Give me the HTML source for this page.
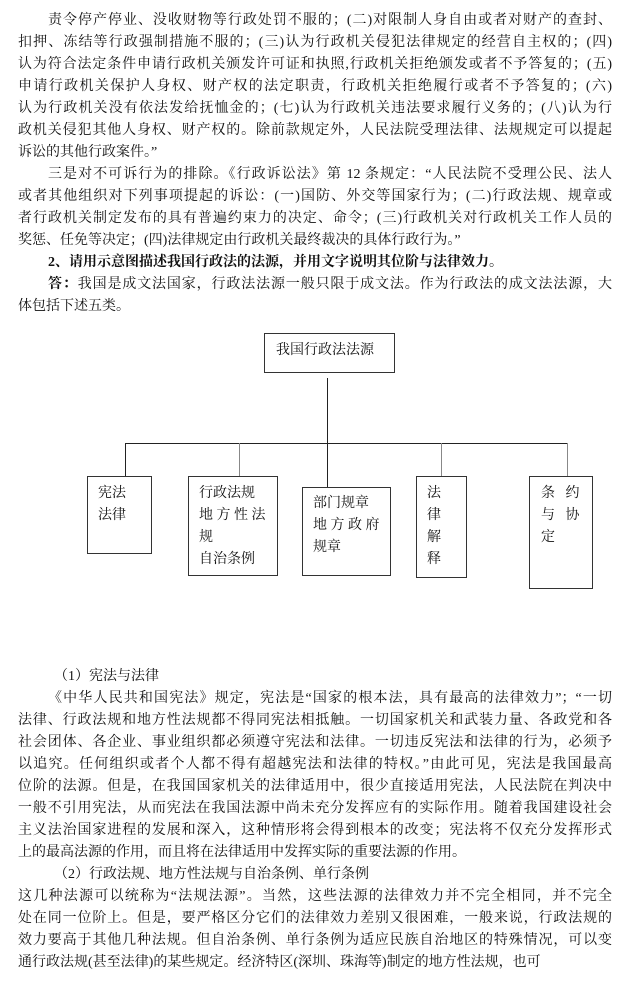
<!DOCTYPE html>
<html><head><meta charset="utf-8"><style>
body{margin:0;width:631px;height:999px;background:#fff;position:relative;overflow:hidden;font-family:"Liberation Serif","Noto Serif CJK SC","Noto Sans CJK SC",serif;color:#111;font-size:14px}
.l{position:absolute;left:18px;width:594px;height:22px;line-height:22px;white-space:nowrap;text-align:justify;text-align-last:justify}
.n{text-align-last:left}
.i{left:48px;width:564px}
.b{position:absolute;border:1px solid #333;box-sizing:border-box;font-size:14px;line-height:22px}
.h{position:absolute;background:#222}
</style></head><body>
<div class="l i" style="top:10px">责令停产停业、没收财物等行政处罚不服的；(二)对限制人身自由或者对财产的查封、</div>
<div class="l" style="top:32px">扣押、冻结等行政强制措施不服的；(三)认为行政机关侵犯法律规定的经营自主权的；(四)</div>
<div class="l" style="top:54px">认为符合法定条件申请行政机关颁发许可证和执照,行政机关拒绝颁发或者不予答复的；(五)</div>
<div class="l" style="top:76px">申请行政机关保护人身权、财产权的法定职责，行政机关拒绝履行或者不予答复的；(六)</div>
<div class="l" style="top:98px">认为行政机关没有依法发给抚恤金的；(七)认为行政机关违法要求履行义务的；(八)认为行</div>
<div class="l" style="top:120px">政机关侵犯其他人身权、财产权的。除前款规定外，人民法院受理法律、法规规定可以提起</div>
<div class="l n" style="top:142px">诉讼的其他行政案件。”</div>
<div class="l i" style="top:164px">三是对不可诉行为的排除。《行政诉讼法》第 12 条规定：“人民法院不受理公民、法人</div>
<div class="l" style="top:186px">或者其他组织对下列事项提起的诉讼：(一)国防、外交等国家行为；(二)行政法规、规章或</div>
<div class="l" style="top:208px">者行政机关制定发布的具有普遍约束力的决定、命令；(三)行政机关对行政机关工作人员的</div>
<div class="l n" style="top:230px">奖惩、任免等决定；(四)法律规定由行政机关最终裁决的具体行政行为。”</div>
<div class="l i n" style="top:252px;font-weight:bold">2、请用示意图描述我国行政法的法源，并用文字说明其位阶与法律效力。</div>
<div class="l i" style="top:274px"><b>答：</b>我国是成文法国家，行政法法源一般只限于成文法。作为行政法的成文法法源，大</div>
<div class="l n" style="top:296px">体包括下述五类。</div>

<div class="b" style="left:264px;top:333px;width:131px;height:40px;padding:6px 0 0 11px">我国行政法法源</div>
<div class="h" style="left:327px;top:378px;width:1px;height:110px"></div>
<div class="h" style="left:125px;top:443px;width:443px;height:1px"></div>
<div class="h" style="left:125px;top:443px;width:1px;height:33px"></div>
<div class="h" style="left:239px;top:443px;width:1px;height:33px;background:#888"></div>
<div class="h" style="left:441px;top:443px;width:1px;height:33px;background:#888"></div>
<div class="h" style="left:567px;top:443px;width:1px;height:33px;background:#888"></div>
<div class="b" style="left:87px;top:476px;width:65px;height:78px;padding:6px 0 0 10px">宪法<br>法律</div>
<div class="b" style="left:188px;top:476px;width:90px;height:100px;padding:6px 0 0 10px">行政法规<br>地 方 性 法<br>规<br>自治条例</div>
<div class="b" style="left:302px;top:487px;width:89px;height:89px;padding:5px 0 0 10px">部门规章<br>地 方 政 府<br>规章</div>
<div class="b" style="left:416px;top:476px;width:51px;height:102px;padding:6px 0 0 10px">法<br>律<br>解<br>释</div>
<div class="b" style="left:529px;top:476px;width:64px;height:113px;padding:6px 0 0 11px">条&nbsp;&nbsp;&nbsp;约<br>与&nbsp;&nbsp;&nbsp;协<br>定</div>

<div class="l i n" style="top:666px;left:54px">（1）宪法与法律</div>
<div class="l i" style="top:688px">《中华人民共和国宪法》规定，宪法是“国家的根本法，具有最高的法律效力”；“一切</div>
<div class="l" style="top:710px">法律、行政法规和地方性法规都不得同宪法相抵触。一切国家机关和武装力量、各政党和各</div>
<div class="l" style="top:732px">社会团体、各企业、事业组织都必须遵守宪法和法律。一切违反宪法和法律的行为，必须予</div>
<div class="l" style="top:754px">以追究。任何组织或者个人都不得有超越宪法和法律的特权。”由此可见，宪法是我国最高</div>
<div class="l" style="top:776px">位阶的法源。但是，在我国国家机关的法律适用中，很少直接适用宪法，人民法院在判决中</div>
<div class="l" style="top:798px">一般不引用宪法，从而宪法在我国法源中尚未充分发挥应有的实际作用。随着我国建设社会</div>
<div class="l" style="top:820px">主义法治国家进程的发展和深入，这种情形将会得到根本的改变；宪法将不仅充分发挥形式</div>
<div class="l n" style="top:842px">上的最高法源的作用，而且将在法律适用中发挥实际的重要法源的作用。</div>
<div class="l i n" style="top:864px;left:54px">（2）行政法规、地方性法规与自治条例、单行条例</div>
<div class="l" style="top:886px">这几种法源可以统称为“法规法源”。当然，这些法源的法律效力并不完全相同，并不完全</div>
<div class="l" style="top:908px">处在同一位阶上。但是，要严格区分它们的法律效力差别又很困难，一般来说，行政法规的</div>
<div class="l" style="top:930px">效力要高于其他几种法规。但自治条例、单行条例为适应民族自治地区的特殊情况，可以变</div>
<div class="l n" style="top:952px">通行政法规(甚至法律)的某些规定。经济特区(深圳、珠海等)制定的地方性法规，也可</div>
</body></html>
